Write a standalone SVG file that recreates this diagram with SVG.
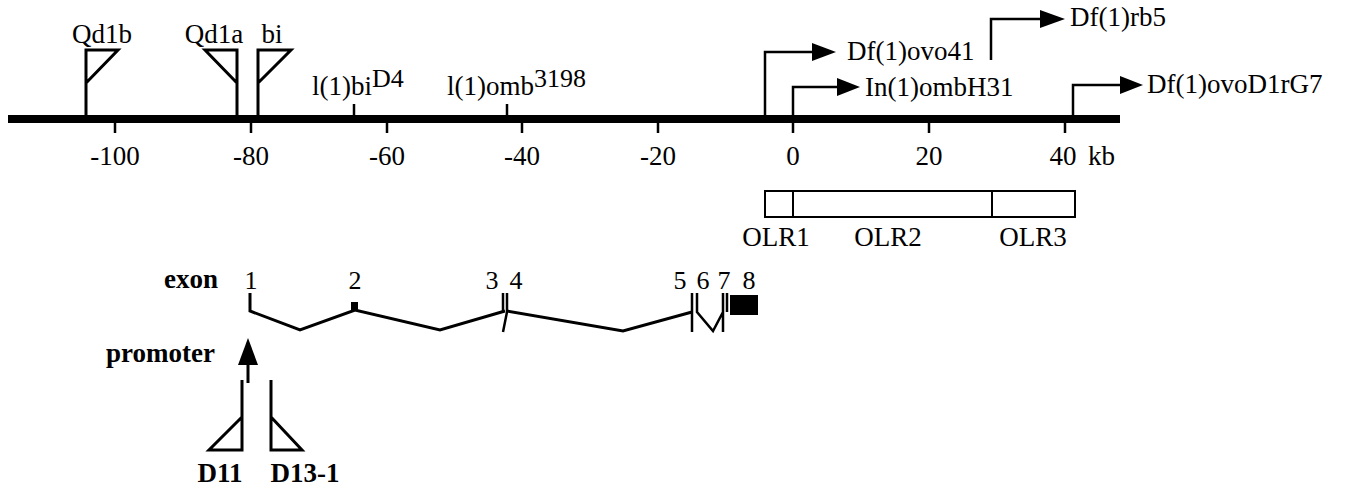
<svg xmlns="http://www.w3.org/2000/svg" width="1347" height="487" viewBox="0 0 1347 487">
<style>
text{font-family:"Liberation Serif","Times New Roman",serif;font-size:27px;fill:#000}
.b{font-weight:bold}
.m{text-anchor:middle}
.e{text-anchor:end}
.ex{font-size:26px}
.sup{font-size:26px}
.flag{fill:none;stroke:#000;stroke-width:3;stroke-linejoin:miter}
.thin{fill:none;stroke:#000;stroke-width:2.5}
.ln{fill:none;stroke:#000;stroke-width:3}
</style>
<rect width="1347" height="487" fill="#fff"/>
<g id="axis">
<rect x="8" y="115" width="1112" height="8" fill="#000"/>
<path class="thin" d="M115,123V133M251,123V133M387,123V133M522,123V133M658,123V133M793,123V133M929,123V133M1065,123V133"/>
<text class="m" x="115" y="165">-100</text>
<text class="m" x="251" y="165">-80</text>
<text class="m" x="387" y="165">-60</text>
<text class="m" x="522" y="165">-40</text>
<text class="m" x="658" y="165">-20</text>
<text class="m" x="793" y="165">0</text>
<text class="m" x="929" y="165">20</text>
<text class="m" x="1063" y="165">40</text>
<text x="1088" y="165">kb</text>
</g>
<g id="Qd1b"><path class="flag" d="M86,119V50H118L86,83"/><text class="m" x="102" y="43">Qd1b</text></g>
<g id="Qd1a"><path class="flag" d="M237,119V50H205L237,83"/><text class="m" x="214" y="43">Qd1a</text></g>
<g id="bi"><path class="flag" d="M258,119V50H291L258,83"/><text class="m" x="272" y="43">bi</text></g>
<g id="l1biD4"><path class="thin" d="M354,104V116"/><text x="312" y="95">l(1)bi<tspan class="sup" dy="-8">D4</tspan></text></g>
<g id="l1omb3198"><path class="thin" d="M507,104V116"/><text x="447" y="95">l(1)omb<tspan class="sup" dy="-8">3198</tspan></text></g>
<g id="connectors">
<path class="thin" d="M765,119V52H814"/><polygon points="812,43 836,52 812,61"/>
<path class="thin" d="M793,119V87H839"/><polygon points="837,78 860,87 837,96"/>
<path class="thin" d="M991,60V19H1042"/><polygon points="1040,10 1065,19 1040,28"/>
<path class="thin" d="M1073,119V85H1122"/><polygon points="1120,76 1143,85 1120,94"/>
</g>
<g id="Dfovo41"><text x="847" y="60">Df(1)ovo41</text></g>
<g id="InombH31"><text x="865" y="96">In(1)ombH31</text></g>
<g id="Dfrb5"><text x="1070" y="26">Df(1)rb5</text></g>
<g id="DfovoD1rG7"><text x="1147" y="93">Df(1)ovoD1rG7</text></g>
<g id="OLR">
<rect x="765" y="191" width="310" height="26" fill="none" stroke="#000" stroke-width="2"/>
<path d="M793,191V217M992,191V217" stroke="#000" stroke-width="2"/>
<text class="m" x="776" y="246">OLR1</text>
<text class="m" x="888" y="246">OLR2</text>
<text class="m" x="1033" y="246">OLR3</text>
</g>
<g id="gene">
<text class="b e" x="218" y="288">exon</text>
<text class="ex m" x="251" y="289">1</text>
<text class="ex m" x="355" y="289">2</text>
<text class="ex m" x="492" y="289">3</text>
<text class="ex m" x="516" y="289">4</text>
<text class="ex m" x="680" y="289">5</text>
<text class="ex m" x="703" y="289">6</text>
<text class="ex m" x="724" y="289">7</text>
<text class="ex m" x="749" y="289">8</text>
<path class="ln" d="M250,293V311L300,330L355,310L440,330L505,311"/>
<rect x="351" y="302" width="7" height="9" fill="#000"/>
<path class="thin" d="M503,293V312M507,293V312L503,332"/>
<path class="ln" d="M507,311L623,331L692,312"/>
<path class="thin" d="M692,293V332M697,293V312L713,331L723,312M723,293V332M727,293V312"/>
<rect x="730" y="295" width="28" height="20" fill="#000"/>
</g>
<g id="promoter">
<text class="b e" x="215" y="362">promoter</text>
<polygon points="248,338 238,365 258,365"/>
<path class="ln" d="M248,364V383"/>
</g>
<g id="D11"><path class="flag" d="M242,380V450H209L242,417"/><text class="b m" x="220" y="482">D11</text></g>
<g id="D13-1"><path class="flag" d="M271,380V450H302L271,417"/><text class="b m" x="305" y="482">D13-1</text></g>
</svg>
